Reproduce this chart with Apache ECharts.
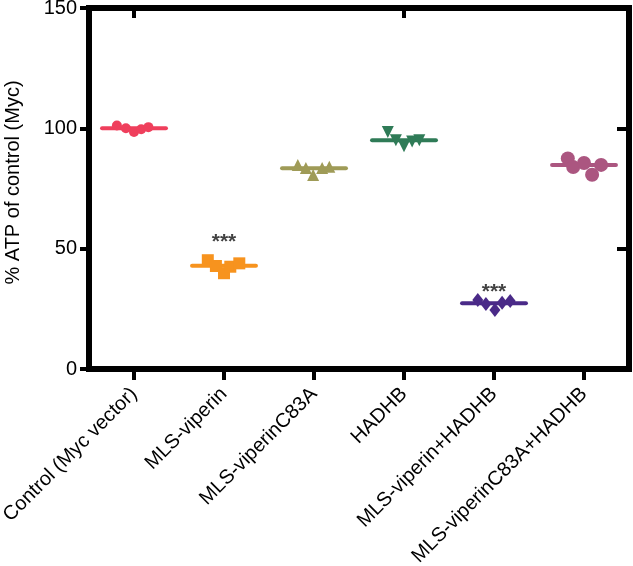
<!DOCTYPE html>
<html><head><meta charset="utf-8">
<script src="https://cdn.jsdelivr.net/npm/echarts@6/dist/echarts.min.js"></script>
<style>html,body{margin:0;padding:0;background:#fff}#c{width:633px;height:566px}</style>
</head><body><div id="c"></div>
<script>
// ---- data ----
const categories = ['Control (Myc vector)', 'MLS-viperin', 'MLS-viperinC83A', 'HADHB', 'MLS-viperin+HADHB', 'MLS-viperinC83A+HADHB'];
const controlValues = [101.2, 100, 98.5, 99.6, 100.5];
const viperinValues = [45.2, 42.8, 39.8, 42.5, 43.9];
const c83aValues = [84.8, 83.5, 80.6, 83.5, 84.0];
const hadhbValues = [98.5, 95.0, 92.6, 94.5, 95.0];
const viperinHadhbValues = [28.7, 27.0, 24.5, 27.5, 28.3];
const c83aHadhbValues = [87.5, 83.9, 85.6, 80.7, 84.8];
const meanValues = [100, 42.9, 83.4, 95.1, 27.3, 84.8];
const significance = ['', '***', '', '', '***', ''];
const significanceY = [null, 54, null, null, 33, null];
const yTicks = [0, 50, 100, 150];

// ---- layout / style (not data) ----
const groups = [controlValues, viperinValues, c83aValues, hadhbValues, viperinHadhbValues, c83aHadhbValues];
const JITTER = [
  [-0.19, -0.09, 0, 0.08, 0.16],
  [-0.18, -0.09, 0, 0.07, 0.17],
  [-0.18, -0.09, -0.01, 0.09, 0.17],
  [-0.18, -0.09, 0, 0.09, 0.17],
  [-0.18, -0.09, 0.01, 0.09, 0.18],
  [-0.18, -0.12, 0, 0.09, 0.19]
];
const COLORS = ['#ef3f5c', '#f7931e', '#9f9b57', '#2f7b57', '#4a2a88', '#ab5680'];
const SYMBOLS = ['circle', 'rect', 'triangle', 'triangle', 'diamond', 'circle'];
const SIZES = [10, 12, 12, 12, [11, 14], 14];
const ROT = [0, 0, 0, 180, 0, 0];
const FONT = "'Liberation Sans', Arial, sans-serif";

const series = [];
series.push({
  type: 'custom', xAxisIndex: 2, yAxisIndex: 0,
  encode: {x: 0, y: 1},
  data: meanValues.map((v, i) => [i, v]),
  renderItem: (params, api) => {
    const i = api.value(0), v = api.value(1);
    const p1 = api.coord([i - 0.355, v]), p2 = api.coord([i + 0.355, v]);
    return {type: 'line', shape: {x1: p1[0], y1: p1[1], x2: p2[0], y2: p2[1]},
      style: {stroke: COLORS[i], lineWidth: 4, lineCap: 'round'}};
  },
  z: 2
});
groups.forEach((vals, g) => {
  series.push({
    type: 'scatter', xAxisIndex: 2, yAxisIndex: 0,
    data: vals.map((v, k) => [g + JITTER[g][k], v]),
    symbol: SYMBOLS[g], symbolSize: SIZES[g], symbolRotate: ROT[g],
    itemStyle: {color: COLORS[g], opacity: 1},
    z: 3
  });
});
series.push({
  type: 'scatter', xAxisIndex: 2, yAxisIndex: 0,
  data: significance.map((s, i) => s ? {value: [i, significanceY[i]], name: s} : null).filter(Boolean),
  symbolSize: 1, itemStyle: {color: 'rgba(0,0,0,0)'},
  label: {show: true, position: 'inside', formatter: p => p.name, color: '#111',
    fontSize: 21, fontWeight: 'bold', fontFamily: FONT, offset: [0, 3]},
  z: 4
});

const axisLineStyle = {color: '#000', width: 6, cap: 'square'};
const option = {
  animation: false,
  backgroundColor: '#fff',
  grid: {left: 89, right: 4, top: 8, bottom: 197, containLabel: false, outerBoundsMode: 'none'},
  xAxis: [
    {type: 'category', data: categories, position: 'bottom',
      axisLine: {show: true, onZero: false, lineStyle: axisLineStyle},
      axisTick: {show: true, alignWithLabel: true, inside: false, length: 11, lineStyle: {color: '#000', width: 4}},
      axisLabel: {rotate: 45, margin: 22, verticalAlign: 'middle', align: 'right', fontSize: 20, color: '#000', fontFamily: FONT, interval: 0},
      splitLine: {show: false}},
    {type: 'category', data: categories, position: 'top',
      axisLine: {show: true, onZero: false, lineStyle: axisLineStyle},
      axisTick: {show: true, alignWithLabel: true, inside: true, length: 10, lineStyle: {color: '#000', width: 4}},
      axisLabel: {show: false}, splitLine: {show: false}},
    {type: 'value', min: -0.5, max: 5.5, show: false, splitLine: {show: false}}
  ],
  yAxis: [
    {type: 'value', min: yTicks[0], max: yTicks[yTicks.length - 1], interval: yTicks[1] - yTicks[0], position: 'left',
      name: '% ATP of control (Myc)', nameLocation: 'middle', nameRotate: 90, nameGap: 66,
      nameTextStyle: {fontSize: 20, color: '#000', fontFamily: FONT, padding: [0, 0, 0, 12]},
      axisLine: {show: true, onZero: false, lineStyle: axisLineStyle},
      axisTick: {show: true, inside: false, length: 9, lineStyle: {color: '#000', width: 4}},
      axisLabel: {fontSize: 20, color: '#000', margin: 12, fontFamily: FONT},
      splitLine: {show: false}},
    {type: 'value', min: yTicks[0], max: yTicks[yTicks.length - 1], interval: yTicks[1] - yTicks[0], position: 'right',
      axisLine: {show: true, onZero: false, lineStyle: axisLineStyle},
      axisTick: {show: true, inside: true, length: 12, lineStyle: {color: '#000', width: 4}},
      axisLabel: {show: false}, splitLine: {show: false}}
  ],
  series: series
};
echarts.init(document.getElementById('c'), null, {renderer: 'canvas'}).setOption(option);
</script></body></html>
